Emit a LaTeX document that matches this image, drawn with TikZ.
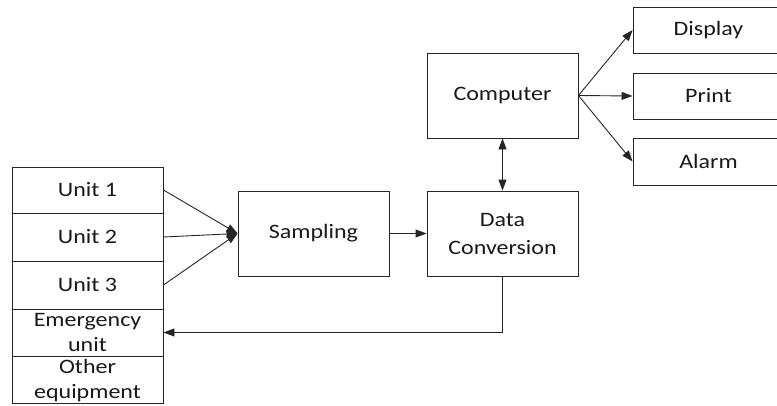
\documentclass[tikz,border=0pt]{standalone}
\usepackage{fontspec}
\setmainfont{Carlito}[FakeStretch=1.17]
\usetikzlibrary{arrows.meta}
\begin{document}
\begin{tikzpicture}[x=1pt,y=-1pt,
  txt/.style={inner sep=0pt,align=center,font=\fontsize{20.5}{28}\selectfont,text=black!90},
  stxt/.style={txt,font=\fontsize{20.5}{25}\selectfont},
  box/.style={draw=black!85,line width=0.9pt,minimum width=151pt,minimum height=85pt,txt},
  row/.style={draw=black!85,line width=0.9pt,minimum width=151pt,inner sep=0pt},
  outbox/.style={draw=black!85,line width=0.9pt,minimum width=151pt,minimum height=46pt,txt},
  arr/.style={draw=black!85,line width=0.9pt,-{Triangle[length=11pt,width=8pt]}},
  darr/.style={draw=black!85,line width=0.9pt,{Triangle[length=11pt,width=8pt]}-{Triangle[length=11pt,width=8pt]}}]
\useasboundingbox (0,0) rectangle (777,405);
\node[row,minimum height=46pt] (u1) at (87.5,190) {};
\node[row,minimum height=48pt] (u2) at (87.5,237) {};
\node[row,minimum height=48pt] (u3) at (87.5,285) {};
\node[row,minimum height=47pt] (em) at (87.5,332.5) {};
\node[row,minimum height=47pt] (ot) at (87.5,379.5) {};
\node[txt] (u1t) at (u1) {Unit 1};
\node[txt] (u2t) at (u2) {Unit 2};
\node[txt] (u3t) at (u3) {Unit 3};
\node[stxt] (emt) at ([yshift=0.5pt]em.center) {Emergency\\unit};
\node[stxt] (ott) at ([yshift=-1.5pt]ot.center) {Other\\equipment};
\node[box] (sa) at (313.5,233.5) {Sampling};
\node[box] (dc) at (502.5,233.5) {Data\\Conversion};
\node[box] (co) at (502.5,95.5) {Computer};
\node[outbox] (di) at (708.5,30) {Display};
\node[outbox] (pr) at (708.5,96) {Print};
\node[outbox,minimum height=47pt] (al) at (708.5,161.5) {Alarm};
\draw[arr] (u1.east) -- (sa.west);
\draw[arr] (u2.east) -- (sa.west);
\draw[arr] (u3.east) -- (sa.west);
\draw[arr] (sa.east) -- (dc.west);
\draw[darr] (co.south) -- (dc.north);
\draw[arr] (dc.south) |- (em.east);
\draw[arr] (co.east) -- (di.west);
\draw[arr] (co.east) -- (pr.west);
\draw[arr] (co.east) -- (al.west);
\end{tikzpicture}
\end{document}
